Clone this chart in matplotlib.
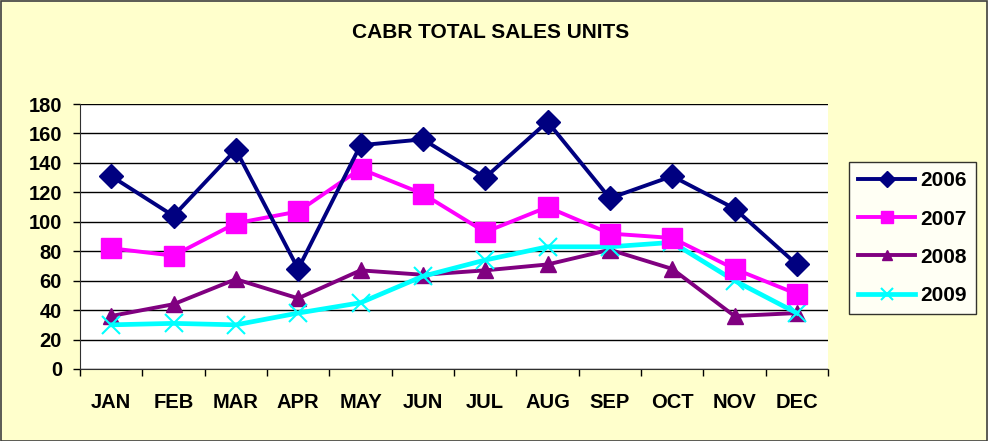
import matplotlib
matplotlib.use("Agg")
import matplotlib.pyplot as plt
from matplotlib.patches import Rectangle
import numpy as np

plt.rcParams['font.family'] = ['Liberation Sans', 'DejaVu Sans']

months = ["JAN", "FEB", "MAR", "APR", "MAY", "JUN", "JUL", "AUG", "SEP", "OCT", "NOV", "DEC"]
s2006 = [131, 104, 149, 68, 152, 156, 130, 168, 116, 131, 109, 71]
s2007 = [82, 77, 99, 107, 136, 119, 93, 110, 92, 89, 68, 51]
s2008 = [36, 44, 61, 48, 67, 64, 67, 71, 81, 68, 36, 38]
s2009 = [30, 31, 30, 38, 45, 63, 74, 83, 83, 86, 60, 38]
yticks = [0, 20, 40, 60, 80, 100, 120, 140, 160, 180]

W, H = 988, 441
fig = plt.figure(figsize=(W / 100, H / 100), dpi=100)
fig.patch.set_facecolor('#FFFFCC')
fig.patches.append(Rectangle((0.5 / W, 0.5 / H), 1 - 1.5 / W, 1 - 1.5 / H, transform=fig.transFigure,
                             fill=False, edgecolor='#404040', linewidth=1.2))

ax = fig.add_axes([80 / W, 1 - 369 / H, (828 - 80) / W, (369 - 104) / H])
ax.set_facecolor('white')
x = np.arange(len(months))

ax.plot(x, s2006, color='#000080', lw=2.8, marker='D', ms=12, label='2006', zorder=5)
ax.plot(x, s2007, color='#FF00FF', lw=2.8, marker='s', ms=14, label='2007', zorder=4)
ax.plot(x, s2008, color='#800080', lw=2.8, marker='^', ms=12, label='2008', zorder=3)
ax.plot(x, s2009, color='#00FFFF', lw=3.4, marker='x', ms=13, mew=1.5, label='2009', zorder=3)

ax.set_xlim(-0.5, len(months) - 0.5)
ax.set_ylim(0, 180)
ax.set_yticks(yticks)
ax.set_yticklabels([str(v) for v in yticks], fontsize=14.5, fontweight='bold')
ax.yaxis.grid(True, color='#000000', lw=1.0)
ax.set_axisbelow(True)

ax.set_xticks(x)
ax.set_xticklabels(months, fontsize=14.5, fontweight='bold')
ax.set_xticks(np.arange(-0.5, len(months)), minor=True)
ax.tick_params(axis='x', which='major', length=0, pad=17)
ax.tick_params(axis='x', which='minor', length=5, width=1, color='black', direction='out')
ax.tick_params(axis='y', length=5, width=1, direction='out', pad=8)

for sp in ['top', 'right']:
    ax.spines[sp].set_visible(False)
ax.spines['left'].set_color('#303030')
ax.spines['bottom'].set_color('#303030')

fig.text(0.497, 1 - 33 / H, 'CABR TOTAL SALES UNITS', ha='center', va='center',
         fontsize=15, fontweight='bold')

leg = fig.legend(loc='upper left', bbox_to_anchor=(849 / W, 1 - 162 / H), frameon=True,
                 fancybox=False, edgecolor='black', prop={'size': 15, 'weight': 'bold'},
                 handlelength=2.7, labelspacing=0.92, borderpad=0.45, handletextpad=0.25,
                 borderaxespad=0, markerscale=0.65)
leg.get_frame().set_linewidth(1.0)
leg.get_frame().set_facecolor('white')

fig.savefig('out.png', dpi=100, facecolor=fig.get_facecolor())
